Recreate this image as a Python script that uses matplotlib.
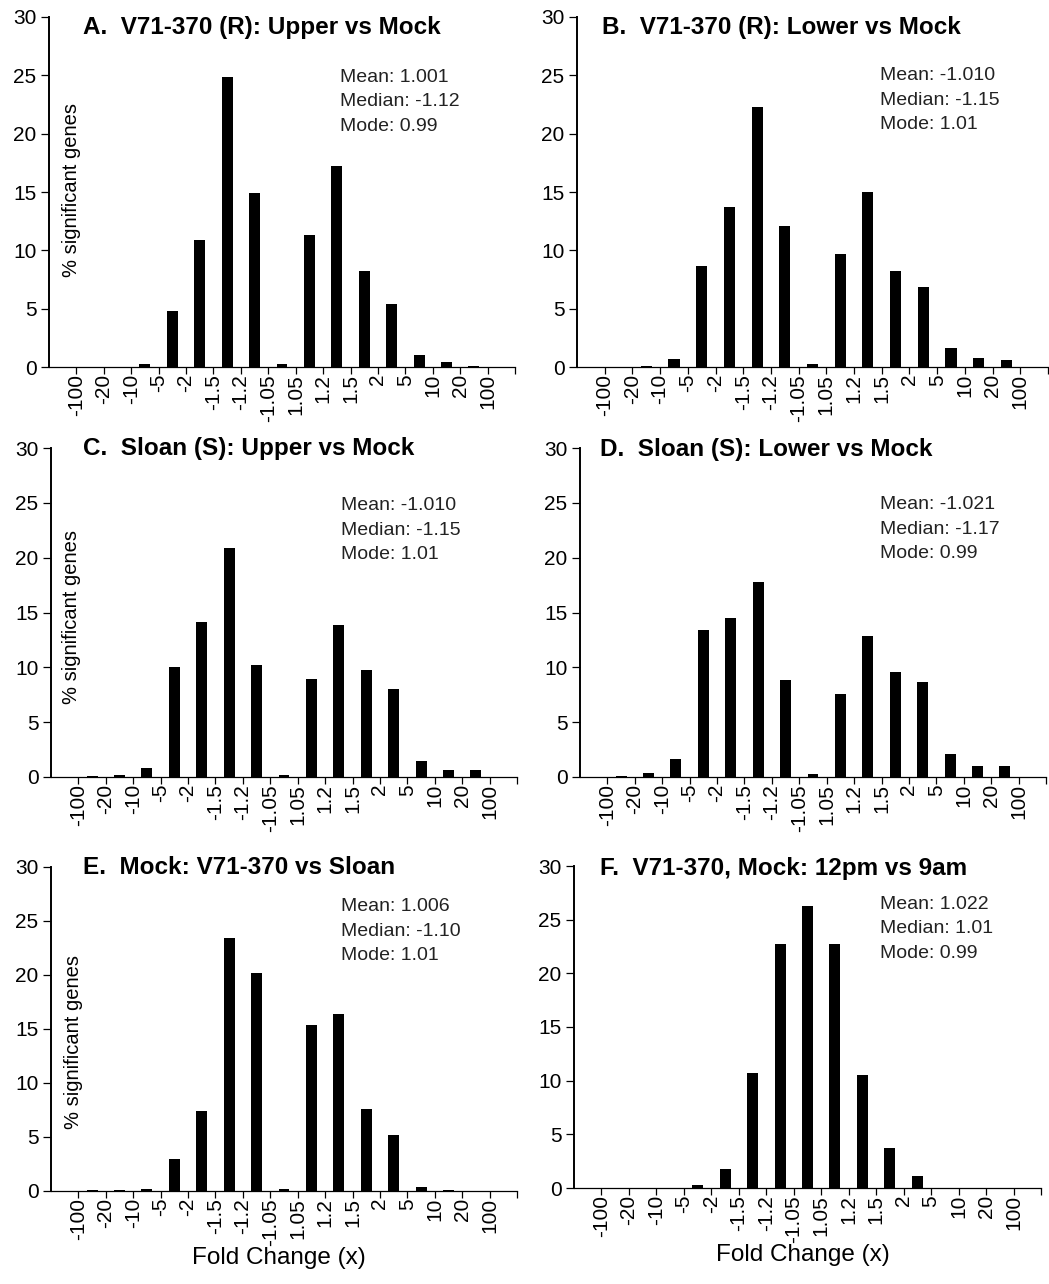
import matplotlib
matplotlib.use("Agg")
import matplotlib.pyplot as plt

# bin edges shown on the x axis (fold change)
edges = ["-100", "-20", "-10", "-5", "-2", "-1.5", "-1.2", "-1.05",
         "1.05", "1.2", "1.5", "2", "5", "10", "20", "100"]

# % significant genes per bin (15 bins between the edges)
pct_a = [0, 0, 0.3, 4.8, 10.9, 24.9, 14.9, 0.3, 11.3, 17.2, 8.2, 5.4, 1.0, 0.4, 0.05]
pct_b = [0, 0.1, 0.7, 8.7, 13.7, 22.3, 12.1, 0.3, 9.7, 15.0, 8.2, 6.9, 1.6, 0.8, 0.6]
pct_c = [0.05, 0.15, 0.8, 10.0, 14.1, 20.9, 10.2, 0.15, 8.9, 13.9, 9.8, 8.0, 1.5, 0.6, 0.6]
pct_d = [0.05, 0.4, 1.6, 13.4, 14.5, 17.8, 8.8, 0.3, 7.6, 12.9, 9.6, 8.7, 2.1, 1.0, 1.0]
pct_e = [0.05, 0.1, 0.15, 3.0, 7.4, 23.4, 20.2, 0.15, 15.4, 16.4, 7.6, 5.2, 0.4, 0.05, 0]
pct_f = [0, 0, 0, 0.3, 1.8, 10.7, 22.7, 26.3, 22.7, 10.5, 3.7, 1.1, 0, 0, 0]

titles = ["A.  V71-370 (R): Upper vs Mock",
          "B.  V71-370 (R): Lower vs Mock",
          "C.  Sloan (S): Upper vs Mock",
          "D.  Sloan (S): Lower vs Mock",
          "E.  Mock: V71-370 vs Sloan",
          "F.  V71-370, Mock: 12pm vs 9am"]

stats = ["Mean: 1.001\nMedian: -1.12\nMode: 0.99",
         "Mean: -1.010\nMedian: -1.15\nMode: 1.01",
         "Mean: -1.010\nMedian: -1.15\nMode: 1.01",
         "Mean: -1.021\nMedian: -1.17\nMode: 0.99",
         "Mean: 1.006\nMedian: -1.10\nMode: 1.01",
         "Mean: 1.022\nMedian: 1.01\nMode: 0.99"]

series = [pct_a, pct_b, pct_c, pct_d, pct_e, pct_f]

plt.rcParams["font.family"] = ["Liberation Sans", "DejaVu Sans"]

W, H = 1049, 1284
fig = plt.figure(figsize=(W / 100, H / 100), dpi=100)

# axes boxes in pixels: left, right, top, bottom
boxes = [(49, 515, 17, 367), (577, 1048, 17, 367),
         (51, 517, 448, 777), (580, 1046, 448, 777),
         (51, 517, 867, 1191), (574, 1041, 866, 1188)]
title_pos = [(0.073, 0.969), (0.053, 0.969), (0.069, 0.997),
             (0.043, 0.994), (0.069, 0.997), (0.056, 0.991)]
stats_pos = [(0.624, 0.852), (0.643, 0.857), (0.622, 0.851),
             (0.644, 0.854), (0.622, 0.904), (0.655, 0.907)]
ylab_pos = [(0.049, 0.506), None, (0.045, 0.486), None, (0.049, 0.46), None]

for i, vals in enumerate(series):
    l, r, t, b = boxes[i]
    ax = fig.add_axes([l / W, 1 - b / H, (r - l) / W, (b - t) / H])
    ax.bar([k + 0.5 for k in range(len(vals))], vals, width=0.4, color="black")
    ax.set_xlim(-1, 16)
    ax.set_ylim(0, 30)
    ax.set_xticks(range(17))
    ax.set_xticklabels(edges + [""], rotation=90, ha="center", va="top", fontsize=15)
    ax.set_yticks(range(0, 31, 5))
    ax.set_yticklabels([str(v) for v in range(0, 31, 5)], fontsize=15)
    ax.spines["top"].set_visible(False)
    ax.spines["right"].set_visible(False)
    ax.spines["left"].set_linewidth(1.4)
    ax.spines["bottom"].set_linewidth(0.9)
    ax.tick_params(axis="x", length=5, width=0.9, pad=0)
    ax.tick_params(axis="y", length=6, width=0.9, pad=3)

    ax.text(title_pos[i][0], title_pos[i][1], titles[i], transform=ax.transAxes,
            fontsize=17.5, fontweight="bold", ha="left", va="center")
    ax.text(stats_pos[i][0], stats_pos[i][1], stats[i], transform=ax.transAxes,
            fontsize=14, ha="left", va="top", linespacing=1.58, color="#222222")
    if ylab_pos[i] is not None:
        ax.text(ylab_pos[i][0], ylab_pos[i][1], "% significant genes",
                transform=ax.transAxes, rotation=90, ha="center", va="center",
                fontsize=14.5)
    if i >= 4:
        ax.text(0.49, -0.207, "Fold Change (x)", transform=ax.transAxes,
                ha="center", va="center", fontsize=17.5)

fig.savefig("out.png", dpi=100)
